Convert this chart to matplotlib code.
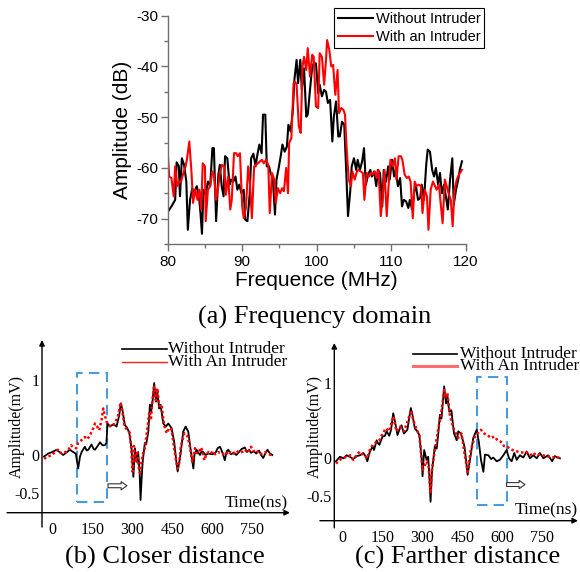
import matplotlib
matplotlib.use("Agg")
import matplotlib.pyplot as plt
from matplotlib.patches import Rectangle, FancyArrowPatch
from matplotlib.lines import Line2D

plt.rcParams["axes.unicode_minus"] = False

W, H = 580, 572

# ---------------- (a) frequency-domain spectrum ----------------
freq_without = [80.0, 80.5, 81.0, 81.2, 81.5, 81.65, 81.9, 82.2, 82.5, 82.7, 83.0, 83.3, 83.5, 83.9,
                84.2, 84.4, 84.6, 84.8, 85.1, 85.4, 85.7, 86.0, 86.2, 86.5, 86.8, 87.0, 87.25, 87.5,
                87.7, 88.0, 88.3, 88.5, 88.8, 89.1, 89.35, 89.6, 89.9, 90.2, 90.4, 90.7, 91.0, 91.2,
                91.5, 91.8, 92.0, 92.3, 92.6, 92.8, 93.1, 93.3, 93.6, 93.8, 94.1, 94.4, 94.6, 94.9,
                95.2, 95.4, 95.7, 96.0, 96.2, 96.5, 96.8, 97.0, 97.3, 97.5, 97.8, 98.0, 98.3, 98.6,
                98.8, 99.1, 99.4, 99.6, 99.9, 100.2, 100.4, 100.7, 101.0, 101.25, 101.5, 101.8, 102.1,
                102.3, 102.6, 102.9, 103.1, 103.4, 103.7, 103.9, 104.2, 104.5, 104.7, 105.0, 105.3,
                105.5, 105.8, 106.1, 106.35, 106.6, 106.9, 107.2, 107.4, 107.7, 108.0, 108.2, 108.5,
                108.8, 109.0, 109.3, 109.6, 109.8, 110.1, 110.4, 110.6, 110.9, 111.2, 111.45, 111.7,
                112.0, 112.3, 112.5, 112.8, 113.1, 113.3, 113.6, 113.9, 114.1, 114.4, 114.7, 114.9,
                115.2, 115.5, 115.75, 116.0, 116.3, 116.55, 116.8, 117.1, 117.4, 117.6, 117.9, 118.2,
                118.4, 118.7, 119.0, 119.2, 119.5]
amp_without = [-68.7, -67.6, -66.3, -58.9, -59.7, -65.6, -58.1, -59.4, -62.7, -72.2, -66.3, -64.0,
               -65.0, -63.6, -65.6, -68.9, -73.0, -64.3, -65.3, -62.7, -63.6, -56.1, -56.1, -70.5,
               -61.3, -59.4, -63.6, -65.6, -57.7, -58.1, -63.3, -62.3, -62.7, -61.7, -64.3, -63.3,
               -65.0, -64.3, -70.2, -70.5, -65.3, -58.1, -57.2, -59.7, -57.7, -55.4, -57.1, -49.5,
               -49.5, -59.7, -59.7, -61.0, -62.0, -69.2, -62.3, -60.0, -57.4, -55.4, -56.8, -55.8,
               -51.5, -52.8, -48.6, -42.7, -38.7, -43.3, -38.7, -44.6, -40.4, -49.9, -49.5, -44.6,
               -40.0, -39.4, -39.4, -45.3, -43.6, -45.9, -44.6, -45.0, -47.2, -46.6, -54.8, -49.9,
               -46.9, -53.8, -53.8, -50.9, -51.5, -58.4, -69.5, -64.6, -59.7, -58.1, -60.4, -58.4,
               -60.4, -58.7, -56.1, -63.3, -61.3, -60.4, -61.7, -60.7, -63.6, -60.4, -61.0, -67.6,
               -60.4, -62.7, -59.7, -62.3, -58.4, -61.7, -60.4, -63.6, -62.0, -67.6, -66.3, -66.6,
               -67.9, -66.3, -68.2, -64.6, -63.3, -66.3, -65.9, -63.3, -66.3, -59.4, -56.4, -56.8,
               -60.4, -61.7, -60.0, -63.3, -61.0, -65.0, -63.3, -66.3, -68.2, -62.3, -58.1, -67.2,
               -64.3, -62.3, -60.4, -58.7]

freq_with = [80.0, 80.2, 80.5, 80.8, 81.0, 81.3, 81.6, 81.8, 82.1, 82.4, 82.6, 82.9, 83.2, 83.4,
             83.7, 84.0, 84.25, 84.5, 84.7, 85.0, 85.1, 85.4, 85.7, 86.0, 86.2, 86.5, 86.8, 87.0,
             87.3, 87.6, 87.8, 88.1, 88.4, 88.6, 88.9, 89.2, 89.4, 89.7, 90.0, 90.2, 90.5, 90.8,
             91.05, 91.3, 91.6, 91.85, 92.1, 92.4, 92.65, 92.9, 93.2, 93.5, 93.7, 94.0, 94.3, 94.5,
             94.8, 95.1, 95.35, 95.6, 95.9, 96.15, 96.3, 96.6, 96.9, 97.1, 97.3, 97.6, 97.85, 98.1,
             98.3, 98.6, 98.8, 99.1, 99.4, 99.6, 99.9, 100.2, 100.4, 100.7, 101.0, 101.25, 101.4,
             101.7, 101.95, 102.2, 102.5, 102.8, 103.0, 103.3, 103.6, 103.8, 104.0, 104.3, 104.6,
             104.8, 105.1, 105.4, 105.6, 105.9, 106.2, 106.4, 106.7, 107.0, 107.25, 107.5, 107.8,
             108.05, 108.3, 108.6, 108.9, 109.1, 109.4, 109.7, 109.9, 110.2, 110.5, 110.7, 111.0,
             111.3, 111.5, 111.8, 112.1, 112.35, 112.6, 112.9, 113.15, 113.4, 113.7, 114.0, 114.2,
             114.5, 114.8, 115.0, 115.3, 115.6, 115.8, 116.1, 116.4, 116.6, 116.9, 117.2, 117.45,
             117.7, 118.0, 118.25, 118.5, 118.8, 119.1, 119.5]
amp_with = [-56.8, -61.7, -62.0, -65.6, -59.7, -63.6, -62.7, -62.7, -61.0, -59.7, -58.1, -54.8,
            -61.0, -66.9, -64.3, -66.3, -64.3, -68.2, -59.1, -59.7, -70.5, -64.3, -63.6, -60.7,
            -61.3, -66.3, -63.6, -61.0, -59.4, -59.7, -65.3, -61.7, -68.2, -66.3, -57.1, -57.1,
            -57.7, -57.1, -67.6, -69.9, -67.9, -59.7, -63.3, -69.9, -59.7, -59.4, -59.1, -58.7,
            -58.4, -59.1, -58.4, -59.4, -68.9, -61.0, -62.3, -66.9, -64.0, -65.0, -64.0, -64.6,
            -60.0, -65.0, -55.1, -54.1, -43.3, -43.0, -43.6, -51.8, -53.1, -40.0, -38.1, -40.7,
            -36.4, -42.0, -37.7, -38.1, -47.9, -48.2, -37.4, -38.1, -43.6, -38.7, -34.8, -36.8,
            -40.0, -39.7, -45.6, -40.7, -49.2, -48.2, -48.6, -49.5, -55.8, -62.3, -63.6, -60.7,
            -62.3, -60.7, -60.4, -60.7, -61.0, -66.3, -61.0, -61.7, -61.0, -61.3, -60.7, -62.0,
            -60.4, -69.5, -65.0, -60.4, -69.5, -62.3, -58.4, -59.7, -58.1, -62.3, -57.7, -57.7,
            -58.4, -61.3, -62.0, -61.7, -62.7, -69.9, -62.7, -63.6, -63.3, -63.6, -68.9, -64.3,
            -65.6, -72.2, -64.3, -62.7, -63.3, -64.3, -63.3, -66.3, -70.9, -62.3, -63.6, -65.0,
            -66.3, -71.5, -64.3, -62.3, -61.3, -60.4]

# ---------------- (b) closer distance, time domain ----------------
t_b_without = [-31, -15, 0, 16, 30, 41, 55, 66, 78, 88, 97, 104, 110, 122, 129, 135, 147, 155, 160,
               170, 179, 188, 197, 203, 207, 216, 229, 241, 251, 257, 264, 272, 281, 289, 297, 304,
               310, 316, 322, 327, 331, 336, 339, 347, 352, 360, 366, 371, 377, 382, 389, 394, 401,
               406, 416, 426, 435, 447, 457, 464, 470, 479, 491, 500, 510, 520, 529, 533, 541, 548,
               554, 560, 566, 575, 585, 600, 612, 620, 629, 635, 641, 647, 654, 660, 670, 680, 690,
               700, 710, 722, 730, 738, 745, 755, 765, 775, 783, 791, 800, 807, 816, 825]
v_b_without = [-0.02, 0.02, 0.04, 0.07, 0.03, 0.0, 0.04, 0.07, 0.04, 0.02, -0.18, -0.02, 0.04, 0.11,
               0.06, 0.07, 0.14, 0.08, 0.07, 0.12, 0.17, 0.13, 0.13, 0.16, 0.42, 0.38, 0.41, 0.38,
               0.53, 0.69, 0.58, 0.40, 0.36, 0.29, 0.09, -0.29, 0.09, -0.09, 0.04, -0.20, -0.60,
               -0.25, -0.09, 0.16, 0.14, 0.31, 0.67, 0.58, 0.75, 0.96, 0.71, 0.84, 0.62, 0.67, 0.42,
               0.38, 0.42, 0.36, 0.18, -0.05, -0.22, -0.04, 0.31, 0.38, 0.31, 0.04, -0.18, 0.0, 0.07,
               0.03, 0.0, 0.05, 0.04, 0.0, 0.02, 0.01, 0.03, 0.09, 0.11, 0.06, 0.0, -0.07, 0.05,
               0.07, 0.01, 0.03, 0.0, 0.04, 0.08, 0.10, 0.04, 0.07, 0.03, 0.05, 0.02, 0.06, 0.0,
               -0.04, 0.03, 0.07, 0.02, 0.0]
t_b_with = [-31, -15, 0, 12, 22, 35, 50, 62, 70, 80, 90, 97, 104, 110, 116, 122, 130, 140, 147, 154,
            160, 168, 176, 185, 191, 197, 204, 210, 222, 235, 247, 256, 263, 271, 282, 290, 296,
            301, 306, 312, 318, 323, 329, 334, 340, 347, 355, 364, 370, 376, 381, 388, 394, 401,
            410, 419, 429, 438, 447, 457, 463, 470, 476, 482, 495, 507, 516, 525, 535, 541, 548,
            557, 563, 570, 578, 586, 595, 603, 611, 620, 630, 640, 650, 660, 670, 680, 690, 700,
            712, 722, 733, 745, 755, 765, 778, 790, 800, 811, 822]
v_b_with = [-0.05, -0.02, 0.0, 0.05, 0.07, 0.02, 0.04, 0.08, 0.13, 0.10, 0.09, 0.16, 0.18, 0.20,
            0.22, 0.24, 0.21, 0.25, 0.31, 0.36, 0.42, 0.38, 0.33, 0.47, 0.62, 0.53, 0.44, 0.40,
            0.38, 0.42, 0.53, 0.70, 0.58, 0.38, 0.33, 0.30, 0.10, -0.22, 0.12, -0.10, 0.05, -0.15,
            -0.24, -0.10, 0.02, 0.09, 0.31, 0.58, 0.49, 0.75, 0.91, 0.73, 0.89, 0.65, 0.67, 0.40,
            0.29, 0.36, 0.34, 0.09, -0.05, -0.18, -0.10, 0.11, 0.29, 0.25, 0.11, -0.09, 0.09,
            0.03, 0.02, 0.10, 0.06, -0.07, 0.01, 0.04, 0.02, 0.05, 0.01, 0.04, 0.03, 0.01, 0.04,
            0.0, 0.04, 0.02, 0.06, 0.03, 0.04, 0.07, 0.03, 0.11, 0.05, 0.07, 0.01, 0.02, 0.04,
            0.01, 0.0]

# ---------------- (c) farther distance, time domain ----------------
t_c_without = [-24, -9, 5, 16, 28, 41, 55, 66, 79, 88, 94, 100, 104, 114, 119, 129, 134, 139, 151,
               160, 166, 176, 183, 191, 197, 207, 216, 222, 231, 244, 257, 263, 272, 281, 289, 297,
               301, 307, 316, 322, 326, 331, 336, 339, 347, 354, 360, 366, 372, 382, 389, 394, 401,
               409, 419, 429, 435, 445, 458, 465, 470, 479, 491, 504, 512, 520, 529, 535, 548, 558,
               566, 579, 591, 604, 616, 625, 635, 645, 654, 666, 679, 691, 704, 716, 729, 741, 754,
               772, 787, 797, 806, 816]
v_c_without = [-0.04, 0.02, 0.0, 0.04, 0.02, -0.01, 0.03, 0.04, 0.07, 0.02, -0.04, 0.05, 0.09, 0.16,
               0.11, 0.24, 0.20, 0.18, 0.29, 0.30, 0.36, 0.30, 0.38, 0.60, 0.50, 0.31, 0.40, 0.44,
               0.33, 0.38, 0.67, 0.58, 0.40, 0.36, 0.31, 0.02, -0.24, 0.11, -0.02, 0.02, -0.20,
               -0.58, -0.20, -0.09, 0.16, 0.13, 0.33, 0.58, 0.53, 0.96, 0.73, 0.84, 0.62, 0.64,
               0.33, 0.24, 0.36, 0.33, 0.16, -0.05, -0.22, -0.02, 0.27, 0.38, 0.22, -0.02, -0.18,
               0.05, 0.04, -0.01, 0.01, -0.04, -0.02, 0.04, 0.11, 0.0, -0.04, 0.07, -0.02, 0.04,
               0.01, 0.09, 0.0, 0.04, 0.0, 0.07, 0.0, 0.04, -0.04, 0.03, 0.01, 0.0]
t_c_with = [-24, -5, 16, 30, 41, 55, 66, 79, 94, 104, 114, 129, 139, 151, 164, 176, 191, 203, 216,
            231, 247, 257, 266, 279, 289, 301, 316, 324, 331, 336, 347, 360, 369, 382, 389, 394,
            404, 419, 435, 447, 458, 470, 482, 495, 507, 520, 532, 545, 557, 570, 582, 595, 607,
            620, 632, 645, 657, 672, 687, 700, 712, 725, 737, 750, 766, 785, 804, 816]
v_c_with = [-0.07, -0.01, 0.02, 0.04, -0.02, 0.05, 0.09, 0.04, 0.0, 0.12, 0.18, 0.22, 0.24, 0.33,
            0.40, 0.36, 0.56, 0.36, 0.42, 0.36, 0.51, 0.64, 0.51, 0.38, 0.31, -0.16, -0.04, -0.12,
            -0.47, -0.15, 0.11, 0.40, 0.56, 0.91, 0.81, 0.87, 0.56, 0.38, 0.27, 0.33, 0.07, -0.18,
            0.11, 0.27, 0.33, 0.38, 0.33, 0.31, 0.27, 0.29, 0.24, 0.22, 0.16, 0.15, 0.12, 0.10,
            0.09, 0.08, 0.07, 0.08, 0.03, 0.07, 0.05, 0.04, 0.03, 0.01, 0.02, 0.0]

time_ticks = [0, 150, 300, 450, 600, 750]
amp_ticks = [1, 0, -0.5]
labels_a = ["Without Intruder", "With an Intruder"]
labels_bc = ["Without Intruder", "With An Intruder"]

SANS = "Liberation Sans"
SERIF = "Liberation Serif"


def rect(x0, y0, x1, y1):
    """Figure-fraction rectangle from pixel edges (origin top-left)."""
    return [x0 / W, 1 - y1 / H, (x1 - x0) / W, (y1 - y0) / H]


def fx(x):
    return x / W


def fy(y):
    return 1 - y / H


fig = plt.figure(figsize=(W / 100, H / 100), dpi=100)

# ---------------- panel (a) ----------------
ax = fig.add_axes(rect(167.7, 15.7, 465.7, 244))
ax.plot(freq_without, amp_without, color="black", lw=1.5, label=labels_a[0])
ax.plot(freq_with, amp_with, color="#ff0000", lw=1.5, label=labels_a[1])
ax.set_xlim(80, 120)
ax.set_ylim(-75, -30)
ax.set_xticks([80, 90, 100, 110, 120])
ax.set_xticks([85, 95, 105, 115], minor=True)
ax.set_yticks([-70, -60, -50, -40, -30])
ax.set_yticks([-75, -65, -55, -45, -35], minor=True)
for s in ("top", "right"):
    ax.spines[s].set_visible(False)
for s in ("left", "bottom"):
    ax.spines[s].set_color("#707070")
    ax.spines[s].set_linewidth(1.0)
ax.tick_params(which="both", direction="out", color="#707070", width=1.0)
ax.tick_params(which="major", length=5, labelsize=11)
ax.tick_params(which="minor", length=3)
ax.tick_params(axis="x", pad=3)
ax.tick_params(axis="y", pad=2)
for lbl in ax.get_xticklabels() + ax.get_yticklabels():
    lbl.set_fontfamily(SANS)
ax.set_xlabel("Frequence (MHz)", fontsize=15, family=SANS, labelpad=1)
ax.set_ylabel("Amplitude (dB)", fontsize=15, family=SANS, labelpad=3)
leg = ax.legend(loc="upper right", bbox_to_anchor=(fx(484), fy(8)),
                bbox_transform=fig.transFigure, prop={"family": SANS, "size": 10.5},
                frameon=True, fancybox=False, edgecolor="black", framealpha=1,
                borderpad=0.25, borderaxespad=0, handlelength=2.4, handletextpad=0.2,
                labelspacing=0.3)
leg.get_frame().set_linewidth(0.8)
fig.text(fx(315), fy(317), "(a) Frequency domain", family=SERIF, fontsize=19,
         ha="center", va="center")


# ---------------- panels (b) and (c) ----------------
def time_panel(box, xlim, ylim, t0, v0, t1, v1, rect_t, rect_v, arrow_t, arrow_v,
               y_ext, x_ext, leg_px, leg_red, time_px, ylab_px, caption, cap_px):
    x0, y0, x1, y1 = box
    bx = fig.add_axes(rect(x0, y0, x1, y1))
    bx.set_facecolor("none")
    bx.plot(t0, v0, color="black", lw=1.3)
    bx.plot(t1, v1, color="#ff0000", lw=1.8, ls=(0, (1, 1)))
    bx.set_xlim(*xlim)
    bx.set_ylim(*ylim)
    for s in bx.spines.values():
        s.set_visible(False)
    bx.set_xticks(time_ticks)
    bx.set_yticks(amp_ticks)
    bx.set_yticklabels(["1", "0", "-0.5"])
    bx.tick_params(length=0, labelsize=11.5)
    bx.tick_params(axis="x", pad=7)
    bx.tick_params(axis="y", pad=2)
    for lbl in bx.get_xticklabels() + bx.get_yticklabels():
        lbl.set_fontfamily(SERIF)
    # axis lines with arrow heads
    bx.annotate("", xy=(0, 1.0), xytext=(0, -y_ext), xycoords="axes fraction",
                textcoords="axes fraction", annotation_clip=False,
                arrowprops=dict(arrowstyle="-|>", lw=1.0, color="black",
                                mutation_scale=8, shrinkA=0, shrinkB=0))
    bx.annotate("", xy=(1.0, 0), xytext=(-x_ext, 0), xycoords="axes fraction",
                textcoords="axes fraction", annotation_clip=False,
                arrowprops=dict(arrowstyle="-|>", lw=1.0, color="black",
                                mutation_scale=8, shrinkA=0, shrinkB=0))
    # highlighted window
    bx.add_patch(Rectangle((rect_t[0], rect_v[0]), rect_t[1] - rect_t[0],
                           rect_v[1] - rect_v[0], fill=False, ec="#4b9bdc", lw=1.5,
                           ls=(0, (5, 3)), clip_on=False))
    bx.add_patch(FancyArrowPatch((arrow_t[0], arrow_v), (arrow_t[1], arrow_v),
                                 arrowstyle="simple,head_length=0.6,head_width=0.85,tail_width=0.4",
                                 mutation_scale=7, fc="white", ec="#333333", lw=0.8,
                                 shrinkA=0, shrinkB=0, clip_on=False))
    # legend rows
    lx0, lx1, ly0, ly1, tx = leg_px
    fig.add_artist(Line2D([fx(lx0), fx(lx1)], [fy(ly0), fy(ly0)], color="black", lw=1.2))
    fig.add_artist(Line2D([fx(lx0), fx(lx1)], [fy(ly1), fy(ly1)], color=leg_red[0],
                          lw=leg_red[1]))
    fig.text(fx(tx), fy(ly0), labels_bc[0], family=SERIF, fontsize=12.5, va="center")
    fig.text(fx(tx), fy(ly1), labels_bc[1], family=SERIF, fontsize=12.5, va="center")
    fig.text(fx(time_px[0]), fy(time_px[1]), "Time(ns)", family=SERIF, fontsize=12.5,
             ha="right", va="center")
    fig.text(fx(ylab_px[0]), fy(ylab_px[1]), "Amplitude(mV)", family=SERIF, fontsize=11.5,
             rotation=90, ha="center", va="center")
    fig.text(fx(cap_px[0]), fy(cap_px[1]), caption, family=SERIF, fontsize=19,
             ha="center", va="center")


time_panel(box=(42, 340, 290, 512.7), xlim=(-38.6, 891.4), ylim=(-0.769, 1.533),
           t0=t_b_without, v0=v_b_without, t1=t_b_with, v1=v_b_with,
           rect_t=(91.5, 206), rect_v=(-0.63, 1.097), arrow_t=(209, 280), arrow_v=-0.41,
           y_ext=0.083, x_ext=0.141, leg_px=(122, 167, 349, 362, 168),
           leg_red=("#ff2020", 1.0),
           time_px=(288, 503), ylab_px=(17, 427), caption="(b) Closer distance",
           cap_px=(165, 557))
time_panel(box=(334.3, 343, 578, 520.7), xlim=(-30, 883.9), ylim=(-0.832, 1.537),
           t0=t_c_without, v0=v_c_without, t1=t_c_with, v1=v_c_with,
           rect_t=(506, 619), rect_v=(-0.62, 1.088), arrow_t=(616, 685), arrow_v=-0.35,
           y_ext=0.04, x_ext=0.059, leg_px=(413, 457, 354, 366, 460),
           leg_red=("#ff6a6a", 2.2),
           time_px=(578, 510), ylab_px=(315, 427), caption="(c) Farther distance",
           cap_px=(457.5, 557))

fig.savefig("out.png", dpi=100)
